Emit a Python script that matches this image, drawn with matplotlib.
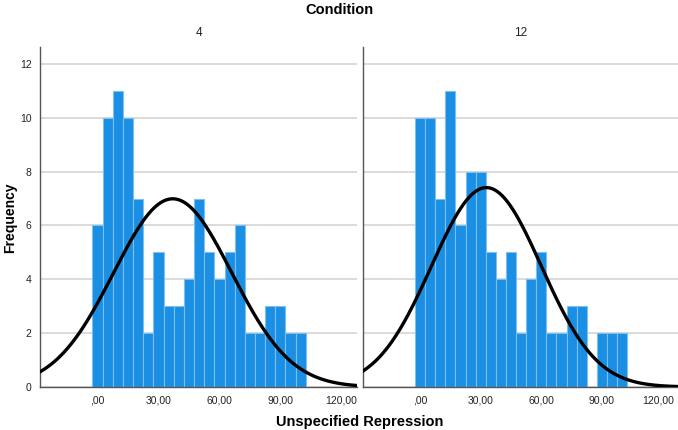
import numpy as np
import matplotlib
matplotlib.use("Agg")
import matplotlib.pyplot as plt

plt.rcParams['font.family'] = ['Liberation Sans', 'DejaVu Sans']

# Data (bin centers, width 5)
bin_centers = [0, 5, 10, 15, 20, 25, 30, 35, 40, 45, 50, 55, 60, 65, 70, 75, 80, 85, 90, 95, 100]
counts_4 = [6, 10, 11, 10, 7, 2, 5, 3, 3, 4, 7, 5, 4, 5, 6, 2, 2, 3, 3, 2, 2]
counts_12 = [10, 10, 7, 11, 6, 8, 8, 5, 4, 5, 2, 4, 5, 2, 2, 3, 3, 0, 2, 2, 2]
bin_width = 5
panel_labels = ["4", "12"]
normal_mean = [37.0, 32.8]
normal_sd = [29.1, 27.2]
xticks = [0, 30, 60, 90, 120]
xtick_labels = [",00", "30,00", "60,00", "90,00", "120,00"]
yticks = [0, 2, 4, 6, 8, 10, 12]

W, H = 678, 430
fig = plt.figure(figsize=(W / 100, H / 100), dpi=100)

bar_color = "#1a8fe3"
edge_color = "#7cc0f2"
grid_color = "#d4d4d4"
axis_color = "#555555"

panels = [(40, 357), (363, 678)]
bottom_px, top_px = 387, 47

for i, (counts, label) in enumerate(zip([counts_4, counts_12], panel_labels)):
    x0, x1 = panels[i]
    ax = fig.add_axes([x0 / W, 1 - bottom_px / H, (x1 - x0) / W, (bottom_px - top_px) / H])
    ax.bar(bin_centers, counts, width=bin_width, color=bar_color,
           edgecolor=edge_color, linewidth=0.8, zorder=2)
    xs = np.linspace(-30, 130, 400)
    n = sum(counts)
    m, s = normal_mean[i], normal_sd[i]
    ys = n * bin_width / (s * np.sqrt(2 * np.pi)) * np.exp(-0.5 * ((xs - m) / s) ** 2)
    ax.plot(xs, ys, color="black", linewidth=2.4, zorder=3)
    ax.set_xlim(-28.3, 127.7)
    ax.set_ylim(0, 12.63)
    ax.set_yticks(yticks)
    ax.set_xticks(xticks)
    ax.set_xticklabels(xtick_labels)
    ax.grid(axis='y', color=grid_color, linewidth=1.2, zorder=0)
    ax.set_axisbelow(True)
    for sp in ['top', 'right']:
        ax.spines[sp].set_visible(False)
    for sp in ['left', 'bottom']:
        ax.spines[sp].set_color(axis_color)
        ax.spines[sp].set_linewidth(1.0)
    ax.tick_params(axis='both', length=0, labelsize=7.5, colors="#222222", pad=6)
    if i == 1:
        ax.set_yticklabels([])
        # keep the last (edge) label fully inside the figure
        ax.get_xticklabels()[-1].set_horizontalalignment('right')
        ax.get_xticklabels()[-1].set_x(ax.get_xticks()[-1])
    ax.set_title(label, fontsize=8.5, pad=8, color="#222222")

if True:
    lbl = fig.axes[1].get_xticklabels()[-1]
    import matplotlib.transforms as mtrans
    lbl.set_transform(lbl.get_transform() + mtrans.ScaledTranslation(12 / 100, 0, fig.dpi_scale_trans))

fig.text(339 / W, 1 - 10 / H, "Condition", ha='center', va='center',
         fontsize=10.5, fontweight='bold')
fig.text(10 / W, 1 - 218 / H, "Frequency", ha='center', va='center',
         rotation=90, fontsize=10, fontweight='bold')
fig.text(360 / W, 1 - 422 / H, "Unspecified Repression", ha='center', va='center',
         fontsize=10.5, fontweight='bold')

fig.savefig("out.png", dpi=100)
